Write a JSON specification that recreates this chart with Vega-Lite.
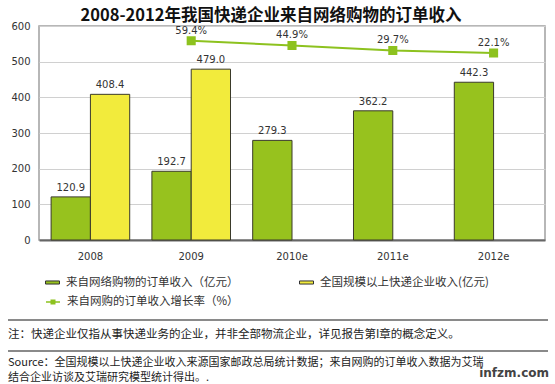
{
  "$schema": "https://vega.github.io/schema/vega-lite/v6.json",
  "width": 506,
  "height": 214,
  "autosize": {"type": "none"},
  "padding": {"left": 39, "top": 26, "right": 10, "bottom": 144},
  "background": "white",
  "config": {
    "view": {"stroke": "#a0a0a0", "strokeWidth": 1.5},
    "font": "Noto Sans CJK SC"
  },
  "title": {
    "text": "2008-2012年我国快递企业来自网络购物的订单收入",
    "font": "Noto Sans CJK SC",
    "fontSize": 16.5,
    "fontWeight": "bold",
    "color": "#111111",
    "anchor": "middle",
    "dx": -21,
    "offset": -3
  },
  "datasets": {
    "bars": [
      {"year": "2008", "series": "来自网络购物的订单收入（亿元）", "value": 120.9},
      {"year": "2008", "series": "全国规模以上快递企业收入(亿元)", "value": 408.4},
      {"year": "2009", "series": "来自网络购物的订单收入（亿元）", "value": 192.7},
      {"year": "2009", "series": "全国规模以上快递企业收入(亿元)", "value": 479.0},
      {"year": "2010e", "series": "来自网络购物的订单收入（亿元）", "value": 279.3},
      {"year": "2011e", "series": "来自网络购物的订单收入（亿元）", "value": 362.2},
      {"year": "2012e", "series": "来自网络购物的订单收入（亿元）", "value": 442.3}
    ],
    "rates": [
      {"year": "2009", "rs": "来自网购的订单收入增长率（%）", "rate": 0.594},
      {"year": "2010e", "rs": "来自网购的订单收入增长率（%）", "rate": 0.449},
      {"year": "2011e", "rs": "来自网购的订单收入增长率（%）", "rate": 0.297},
      {"year": "2012e", "rs": "来自网购的订单收入增长率（%）", "rate": 0.221}
    ]
  },
  "layer": [
    {
      "data": {"name": "bars"},
      "encoding": {
        "x": {
          "field": "year", "type": "nominal",
          "sort": ["2008", "2009", "2010e", "2011e", "2012e"],
          "scale": {"paddingInner": 0.22, "paddingOuter": 0.12},
          "axis": {"title": null, "labelAngle": 0, "ticks": false, "domainColor": "#666666", "domainWidth": 2, "labelPadding": 11, "labelFontSize": 10, "labelColor": "#333333", "labelFont": "DejaVu Sans"}
        },
        "xOffset": {
          "field": "series", "type": "nominal",
          "sort": ["来自网络购物的订单收入（亿元）", "全国规模以上快递企业收入(亿元)"],
          "scale": {"domain": ["来自网络购物的订单收入（亿元）", "全国规模以上快递企业收入(亿元)"], "paddingInner": 0, "paddingOuter": 0}
        },
        "y": {
          "field": "value", "type": "quantitative",
          "scale": {"domain": [0, 600], "nice": false},
          "axis": {"title": null, "values": [0, 100, 200, 300, 400, 500, 600], "ticks": false, "domain": false, "gridColor": "#d0d0d0", "gridWidth": 1, "labelPadding": 9, "labelFontSize": 10, "labelColor": "#333333", "labelFont": "DejaVu Sans"}
        }
      },
      "layer": [
        {
          "mark": {"type": "bar", "stroke": "#3a3a2a", "strokeWidth": 1},
          "encoding": {
            "fill": {
              "field": "series", "type": "nominal",
              "scale": {"domain": ["来自网络购物的订单收入（亿元）", "全国规模以上快递企业收入(亿元)"], "range": ["#97C21E", "#F2EB3C"]},
              "legend": {
                "title": null, "orient": "none", "legendX": 6, "legendY": 249, "direction": "horizontal", "columns": 2, "columnPadding": 58,
                "symbolType": "M-1,-0.22H1V0.22H-1Z", "symbolSize": 196, "symbolStrokeColor": "#333333", "symbolStrokeWidth": 1,
                "labelFont": "Noto Sans CJK SC", "labelFontSize": 11.5, "labelColor": "#333333", "labelOffset": 6, "labelLimit": 400
              }
            }
          }
        },
        {
          "mark": {"type": "text", "dy": -9, "fontSize": 10, "font": "DejaVu Sans", "color": "#333333"},
          "encoding": {
            "text": {"field": "value", "type": "quantitative", "format": ".1f"}
          }
        }
      ]
    },
    {
      "data": {"name": "rates"},
      "encoding": {
        "x": {"field": "year", "type": "nominal", "sort": ["2008", "2009", "2010e", "2011e", "2012e"]},
        "y": {"field": "rate", "type": "quantitative", "scale": {"domain": [-5.45, 1.04], "nice": false, "zero": false}, "axis": null}
      },
      "layer": [
        {
          "mark": {"type": "line", "strokeWidth": 2, "color": "#8DC21F", "point": {"shape": "square", "size": 50, "filled": true, "color": "#8DC21F"}},
          "encoding": {
            "stroke": {
              "field": "rs", "type": "nominal",
              "scale": {"range": ["#8DC21F"]},
              "legend": {
                "title": null, "orient": "none", "legendX": 6, "legendY": 268,
                "symbolType": "M-1,0H1M-0.25,-0.25H0.25V0.25H-0.25Z", "symbolSize": 196, "symbolFillColor": "#8DC21F", "symbolStrokeWidth": 1.5,
                "labelFont": "Noto Sans CJK SC", "labelFontSize": 11.5, "labelColor": "#333333", "labelOffset": 6, "labelLimit": 400
              }
            }
          }
        },
        {
          "mark": {"type": "text", "dy": -10, "fontSize": 10, "font": "DejaVu Sans", "color": "#333333"},
          "encoding": {
            "text": {"field": "rate", "type": "quantitative", "format": ".1%"}
          }
        }
      ]
    },
    {
      "data": {"values": [{"r": "top"}]},
      "mark": {"type": "rule", "color": "#8a8a8a", "strokeWidth": 2},
      "encoding": {"x": {"value": -31}, "x2": {"value": 509}, "y": {"value": 294}}
    },
    {
      "data": {"values": [{"r": "mid"}]},
      "mark": {"type": "rule", "color": "#8a8a8a", "strokeWidth": 2},
      "encoding": {"x": {"value": -31}, "x2": {"value": 509}, "y": {"value": 325}}
    },
    {
      "data": {"values": [{"t": "注：快递企业仅指从事快递业务的企业，并非全部物流企业，详见报告第I章的概念定义。"}]},
      "mark": {"type": "text", "align": "left", "baseline": "middle", "fontSize": 11.5, "font": "Noto Sans CJK SC", "color": "#222222"},
      "encoding": {"x": {"value": -31}, "y": {"value": 309}, "text": {"field": "t"}}
    },
    {
      "data": {"values": [{"t": "Source：全国规模以上快递企业收入来源国家邮政总局统计数据；来自网购的订单收入数据为艾瑞"}]},
      "mark": {"type": "text", "align": "left", "baseline": "middle", "fontSize": 11, "font": "Noto Sans CJK SC", "color": "#222222"},
      "encoding": {"x": {"value": -31}, "y": {"value": 337}, "text": {"field": "t"}}
    },
    {
      "data": {"values": [{"t": "结合企业访谈及艾瑞研究模型统计得出。."}]},
      "mark": {"type": "text", "align": "left", "baseline": "middle", "fontSize": 11, "font": "Noto Sans CJK SC", "color": "#222222"},
      "encoding": {"x": {"value": -31}, "y": {"value": 352}, "text": {"field": "t"}}
    },
    {
      "data": {"values": [{"t": "infzm.com"}]},
      "mark": {"type": "text", "align": "right", "baseline": "middle", "fontSize": 12, "fontWeight": "bold", "font": "DejaVu Sans", "color": "#444444"},
      "encoding": {"x": {"value": 510}, "y": {"value": 347}, "text": {"field": "t"}}
    }
  ],
  "resolve": {"scale": {"y": "independent"}}
}
